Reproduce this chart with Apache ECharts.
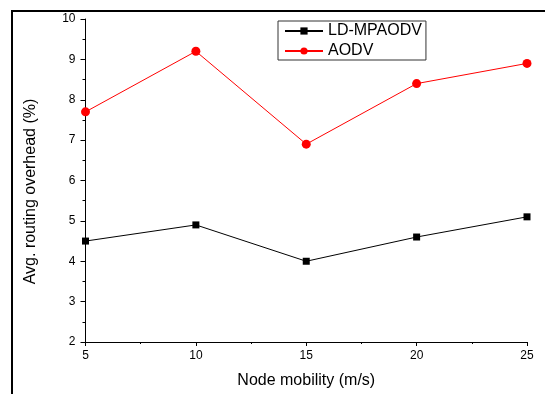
<!DOCTYPE html>
<html>
<head>
<meta charset="utf-8">
<script src="https://cdn.jsdelivr.net/npm/echarts@6/dist/echarts.min.js"></script>
<style>
  html, body { margin: 0; padding: 0; background: #fff; }
  #main { width: 545px; height: 394px; }
</style>
</head>
<body>
<div id="main"></div>
<script>
const mobility = [5, 10, 15, 20, 25];
const ldMpaodv = [4.5, 4.9, 4.0, 4.6, 5.1];
const aodv = [7.7, 9.2, 6.9, 8.4, 8.9];

const font = 'Liberation Sans, Arial, sans-serif';
const chart = echarts.init(document.getElementById('main'));

const toPairs = vals => mobility.map((x, i) => [x, vals[i]]);

chart.setOption({
  animation: false,
  backgroundColor: '#fff',
  textStyle: { fontFamily: font, color: '#000' },
  grid: { left: 85.5, right: 18, top: 19, bottom: 51 },
  graphic: [
    {
      type: 'rect',
      shape: { x: 12, y: 11, width: 700, height: 600 },
      style: { fill: 'none', stroke: '#000', lineWidth: 2 },
      silent: true
    }
  ],
  legend: {
    orient: 'vertical',
    left: 278,
    top: 21,
    padding: [2, 4, 1, 6],
    itemGap: 4,
    itemWidth: 38,
    itemHeight: 9,
    itemTextGap: 5,
    borderColor: '#333',
    borderWidth: 1,
    textStyle: { fontFamily: font, fontSize: 16, color: '#000' },
    data: ['LD-MPAODV', 'AODV']
  },
  xAxis: {
    type: 'value',
    min: 5,
    max: 25,
    interval: 5,
    name: 'Node mobility (m/s)',
    nameLocation: 'middle',
    nameGap: 31,
    nameTextStyle: { fontFamily: font, fontSize: 16, color: '#000' },
    axisLine: { show: true, lineStyle: { color: '#000', width: 1 } },
    axisTick: { show: true, length: 4, lineStyle: { color: '#000' } },
    minorTick: { show: true, splitNumber: 2, length: 2, lineStyle: { color: '#000' } },
    axisLabel: { fontFamily: font, fontSize: 12, color: '#000', margin: 8 },
    splitLine: { show: false }
  },
  yAxis: {
    type: 'value',
    min: 2,
    max: 10,
    interval: 1,
    name: 'Avg. routing overhead (%)',
    nameLocation: 'middle',
    nameGap: 47,
    nameTextStyle: { fontFamily: font, fontSize: 16, color: '#000', padding: [0, 22, 0, 0] },
    axisLine: { show: true, lineStyle: { color: '#000', width: 1 } },
    axisTick: { show: true, length: 5, lineStyle: { color: '#000' } },
    minorTick: { show: true, splitNumber: 2, length: 3, lineStyle: { color: '#000' } },
    axisLabel: { fontFamily: font, fontSize: 12, color: '#000', margin: 10 },
    splitLine: { show: false }
  },
  series: [
    {
      name: 'LD-MPAODV',
      type: 'line',
      data: toPairs(ldMpaodv),
      symbol: 'rect',
      symbolSize: 7,
      lineStyle: { color: '#000', width: 1 },
      itemStyle: { color: '#000' }
    },
    {
      name: 'AODV',
      type: 'line',
      data: toPairs(aodv),
      symbol: 'circle',
      symbolSize: 9,
      lineStyle: { color: '#ff0000', width: 1 },
      itemStyle: { color: '#ff0000' }
    }
  ]
});
</script>
</body>
</html>
